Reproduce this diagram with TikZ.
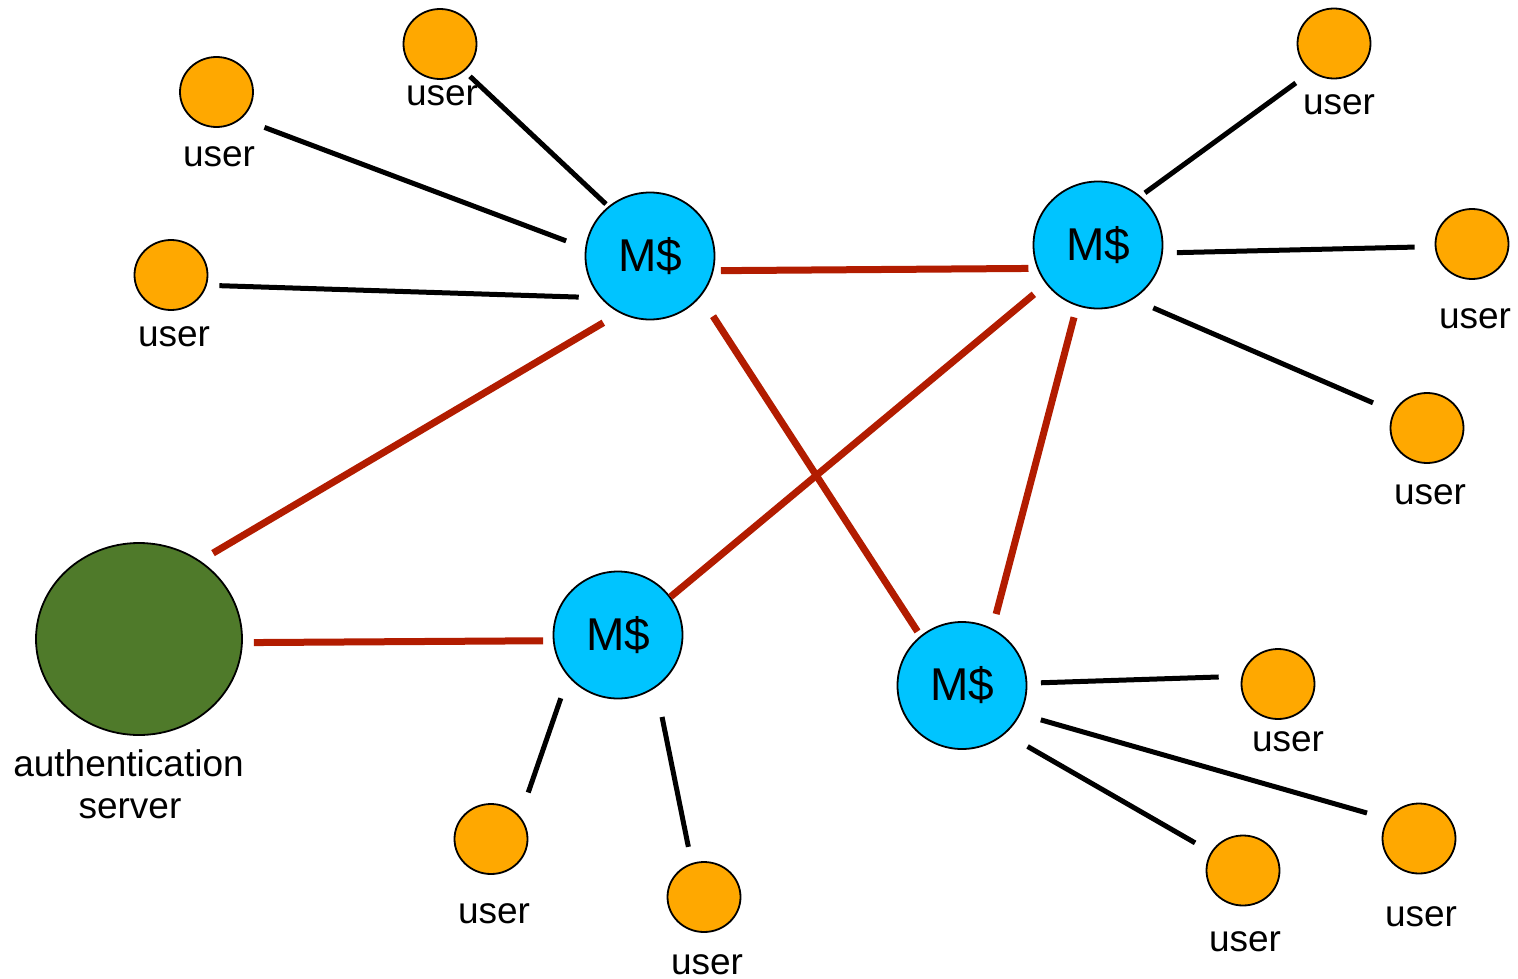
\documentclass[tikz,border=0pt]{standalone}
\usepackage{fontspec}
\setmainfont{Liberation Sans}
\usetikzlibrary{shapes.geometric}
\definecolor{userorange}{RGB}{255,168,0}
\definecolor{mblue}{RGB}{0,196,255}
\definecolor{authgreen}{RGB}{79,122,42}
\definecolor{linkred}{RGB}{178,28,0}
\tikzset{
  usernode/.style={ellipse, draw=black, line width=1.8pt, fill=userorange,
    minimum width=73pt, minimum height=70pt, inner sep=0pt},
  mcache/.style={ellipse, draw=black, line width=1.8pt, fill=mblue,
    minimum width=129pt, minimum height=127pt, inner sep=0pt,
    font=\fontsize{46}{54}\selectfont},
  authsrv/.style={ellipse, draw=black, line width=1.8pt, fill=authgreen,
    minimum width=206pt, minimum height=192pt, inner sep=0pt},
  lbl/.style={anchor=base, inner sep=0pt, font=\fontsize{37}{42}\selectfont},
  blklink/.style={line width=5pt, draw=black, line cap=butt},
  redlink/.style={line width=7pt, draw=linkred, line cap=butt}
}
\begin{document}
\begin{tikzpicture}[x=1pt, y=-1pt]
\useasboundingbox (0,0) rectangle (1518,979);
% message caches
\node[mcache] (A) at (650,256) {M\$};
\node[mcache] (B) at (1098,245) {M\$};
\node[mcache] (C) at (618,635) {M\$};
\node[mcache] (D) at (962,685.5) {M\$};
% authentication server
\node[authsrv] (S) at (139,639) {};
\node[lbl] (Slbl1) at (128.5,776) {authentication};
\node[lbl] (Slbl2) at (130,818) {server};
% users
\node[usernode] (u1) at (440,44) {};
\node[usernode] (u2) at (216.5,92) {};
\node[usernode] (u3) at (171,275) {};
\node[usernode] (u4) at (1334,43.5) {};
\node[usernode] (u5) at (1472,244) {};
\node[usernode] (u6) at (1427,428) {};
\node[usernode] (u7) at (491,839) {};
\node[usernode] (u8) at (704,897) {};
\node[usernode] (u9) at (1278,684) {};
\node[usernode] (u10) at (1419,838.5) {};
\node[usernode] (u11) at (1243,870.5) {};
\node[lbl] (ul1) at (442,106) {user};
\node[lbl] (ul2) at (219,166) {user};
\node[lbl] (ul3) at (174,346) {user};
\node[lbl] (ul4) at (1339,115) {user};
\node[lbl] (ul5) at (1475,328) {user};
\node[lbl] (ul6) at (1430,504) {user};
\node[lbl] (ul7) at (494,923) {user};
\node[lbl] (ul8) at (707,974) {user};
\node[lbl] (ul9) at (1288,751) {user};
\node[lbl] (ul10) at (1421,926) {user};
\node[lbl] (ul11) at (1245,951) {user};
% user links
\draw[blklink, shorten <=7.6pt, shorten >=3.3pt] (u1.-48.6) -- (A.130.6);
\draw[blklink, shorten <=24.6pt, shorten >=20.3pt] (u2.-47.6) -- (A.173.1);
\draw[blklink, shorten <=12.6pt, shorten >=21.5pt] (u3.-16.7) -- (A.-140.5);
\draw[blklink, shorten <=5.5pt, shorten >=18.9pt] (B.49.5) -- (u4.-129.9);
\draw[blklink, shorten <=14pt, shorten >=20.1pt] (B.-7.3) -- (u5.-176.1);
\draw[blklink, shorten <=21.8pt, shorten >=22.5pt] (B.-57.8) -- (u6.154.1);
\draw[blklink, shorten <=22.7pt, shorten >=25.2pt] (C.-140.7) -- (u7.38.7);
\draw[blklink, shorten <=30.2pt, shorten >=16.6pt] (C.-54.6) -- (u8.110.1);
\draw[blklink, shorten <=13.6pt, shorten >=22.8pt] (D.2.7) -- (u9.168.1);
\draw[blklink, shorten <=21pt, shorten >=21.5pt] (D.-26) -- (u10.148);
\draw[blklink, shorten <=25.6pt, shorten >=18.3pt] (D.-48.1) -- (u11.150.2);
% cache links
\draw[redlink, shorten <=7.3pt, shorten >=8.6pt] (A.-13.3) -- (B.-159.5);
\draw[redlink, shorten <=19pt, shorten >=14.9pt] (A.-118.9) -- (S.52);
\draw[redlink, shorten <=23pt, shorten >=5.2pt] (A.-39.6) -- (D.130.1);
\draw[redlink, shorten <=15.9pt] (B.-143.7) -- (C.36.8);
\draw[redlink, shorten <=11.7pt, shorten >=14.9pt] (B.-109.7) -- (D.62.5);
\draw[redlink, shorten <=11.1pt, shorten >=9.7pt] (S.-2.3) -- (C.-175.7);
\end{tikzpicture}
\end{document}
